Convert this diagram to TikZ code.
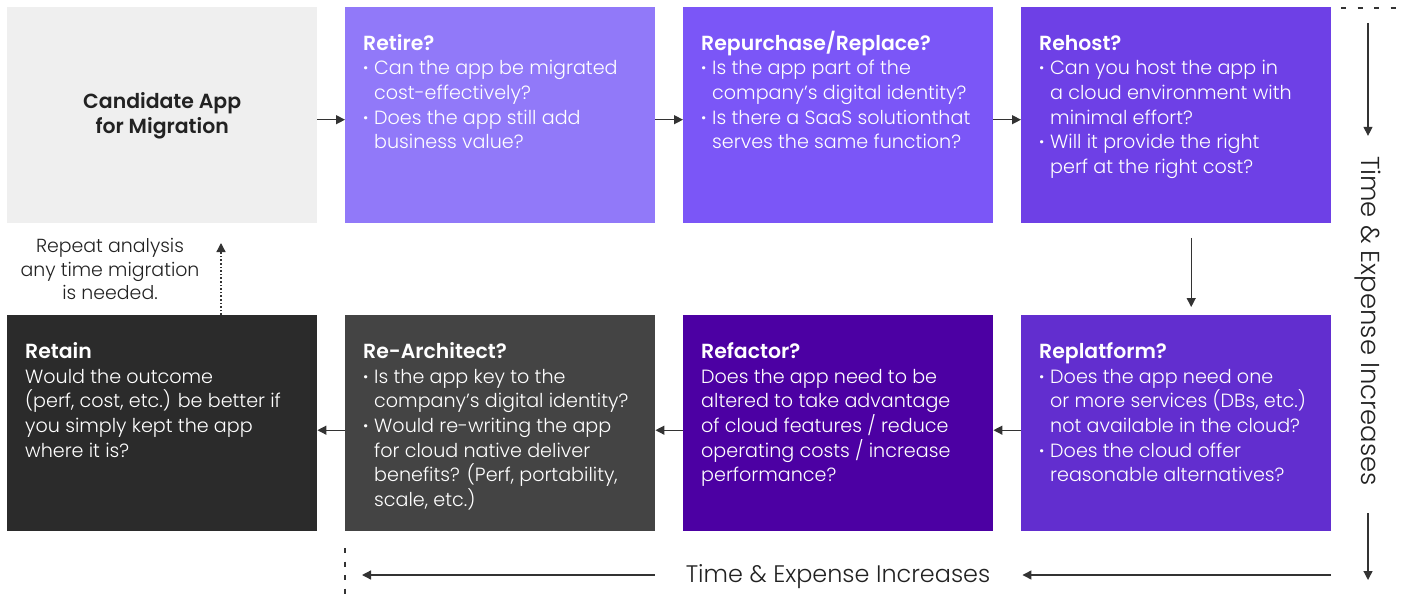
\documentclass[tikz,border=0pt]{standalone}
\usepackage{fontspec}
\setmainfont{Poppins}[UprightFont=* Light, BoldFont=* SemiBold]
\usetikzlibrary{arrows.meta}

\definecolor{candfill}{HTML}{EFEFEF}
\definecolor{retirefill}{HTML}{9179F9}
\definecolor{repurchfill}{HTML}{7B56F7}
\definecolor{rehostfill}{HTML}{6E40E6}
\definecolor{replatfill}{HTML}{622ECF}
\definecolor{refactfill}{HTML}{4C00A3}
\definecolor{rearchfill}{HTML}{444444}
\definecolor{retainfill}{HTML}{2B2B2B}
\definecolor{inkdark}{HTML}{222222}
\definecolor{linegray}{HTML}{333333}

\newcommand{\bul}{\makebox[11bp][l]{\textbf{·}}}
\newcommand{\cont}{\hspace*{11bp}}
% title line: fixed-height rule keeps the first baseline in the same place
\newcommand{\ttl}[1]{\rule{0pt}{21bp}{\fontsize{20.5}{24.7}\selectfont\bfseries #1}}

\begin{document}
\begin{tikzpicture}[x=1bp, y=-1bp,
  stagebox/.style={draw=none, minimum width=310bp, minimum height=216bp,
    inner sep=0, anchor=north west},
  bodytext/.style={anchor=north west, inner sep=0, align=left, text=white,
    font=\fontsize{19.2}{24.7}\selectfont},
  timetext/.style={inner sep=0, text=inkdark},
  arr/.style={draw=linegray, line width=1.3bp, -{Triangle[length=9bp,width=9bp]}},
  guide/.style={draw=linegray, line width=1.2bp}]

\useasboundingbox (0,0) rectangle (1403,600);

% ---- stage boxes, top row ----
\node[stagebox, fill=candfill]    (cand)    at (7,6.5)    {};
\node[stagebox, fill=retirefill]  (retire)  at (345,6.5)  {};
\node[stagebox, fill=repurchfill] (repurch) at (683,6.5)  {};
\node[stagebox, fill=rehostfill]  (rehost)  at (1021,6.5) {};
% ---- stage boxes, bottom row ----
\node[stagebox, fill=retainfill]  (retain)  at (7,315)    {};
\node[stagebox, fill=rearchfill]  (rearch)  at (345,315)  {};
\node[stagebox, fill=refactfill]  (refact)  at (683,315)  {};
\node[stagebox, fill=replatfill]  (replat)  at (1021,315) {};

% ---- box texts ----
\node[align=center, inner sep=0, text=inkdark,
  font=\fontsize{20.5}{24.7}\selectfont\bfseries] (candtxt) at ([yshift=-1bp]cand.center)
  {Candidate App\\for Migration};

\node[bodytext] (retiretxt) at ([shift={(18,22.5)}]retire.north west)
  {\ttl{Retire?}\\
   \bul Can the app be migrated\\
   \cont cost-effectively?\\
   \bul Does the app still add\\
   \cont business value?};

\node[bodytext] (repurchtxt) at ([shift={(18,22.5)}]repurch.north west)
  {\ttl{Repurchase/Replace?}\\
   \bul Is the app part of the\\
   \cont company’s digital identity?\\
   \bul Is there a SaaS solutionthat\\
   \cont serves the same function?};

\node[bodytext] (rehosttxt) at ([shift={(18,22.5)}]rehost.north west)
  {\ttl{Rehost?}\\
   \bul Can you host the app in\\
   \cont a cloud environment with\\
   \cont minimal effort?\\
   \bul Will it provide the right\\
   \cont perf at the right cost?};

\node[bodytext] (replattxt) at ([shift={(18,22.5)}]replat.north west)
  {\ttl{Replatform?}\\
   \bul Does the app need one\\
   \cont or more services (DBs, etc.)\\
   \cont not available in the cloud?\\
   \bul Does the cloud offer\\
   \cont reasonable alternatives?};

\node[bodytext] (refacttxt) at ([shift={(18,22.5)}]refact.north west)
  {\ttl{Refactor?}\\
   Does the app need to be\\
   altered to take advantage\\
   of cloud features / reduce\\
   operating costs / increase\\
   performance?};

\node[bodytext] (rearchtxt) at ([shift={(18,22.5)}]rearch.north west)
  {\ttl{Re-Architect?}\\
   \bul Is the app key to the\\
   \cont company’s digital identity?\\
   \bul Would re-writing the app\\
   \cont for cloud native deliver\\
   \cont benefits? (Perf, portability,\\
   \cont scale, etc.)};

\node[bodytext] (retaintxt) at ([shift={(18,22.5)}]retain.north west)
  {\ttl{Retain}\\
   Would the outcome\\
   (perf, cost, etc.) be better if\\
   you simply kept the app\\
   where it is?};

% ---- flow connectors ----
\draw[arr] ([yshift=-5bp]cand.east) -- ([yshift=-5bp]retire.west);
\draw[arr] ([yshift=-5bp]retire.east) -- ([yshift=-5bp]repurch.west);
\draw[arr] ([yshift=-5bp]repurch.east) -- ([yshift=-5bp]rehost.west);
\draw[arr, shorten <=15bp, shorten >=8bp]
  ([xshift=15bp]rehost.south) -- ([xshift=15bp]replat.north);
\draw[arr] ([yshift=-7bp]replat.west) -- ([yshift=-7bp]refact.east);
\draw[arr] ([yshift=-7bp]refact.west) -- ([yshift=-7bp]rearch.east);
\draw[arr] ([yshift=-7bp]rearch.west) -- ([yshift=-7bp]retain.east);

% ---- repeat loop ----
\node[align=center, inner sep=0, text=inkdark,
  font=\fontsize{19}{24}\selectfont] (repeat) at (110,269)
  {Repeat analysis\\any time migration\\is needed.};
\coordinate (looptop) at (221,243);
\draw[arr, dash pattern=on 1.6bp off 2bp] (retain.north -| looptop) -- (looptop);

% ---- time & expense axis, right side ----
\coordinate (dashL) at (1341,8);
\coordinate (dashR) at (1396,8);
\draw[guide, dash pattern=on 5bp off 11.5bp] (dashL) -- (dashR);
\node[timetext, rotate=-90, font=\fontsize{26}{30}\selectfont] (timev) at (1368,321)
  {Time \& Expense Increases};
\coordinate (vtop) at (1368,23);
\coordinate (vbot) at (1368,580);
\draw[arr, shorten >=20bp] (vtop) -- (timev.west);
\draw[arr, shorten <=27bp] (timev.east) -- (vbot);

% ---- time & expense axis, bottom ----
\coordinate (dashT) at (345,548);
\coordinate (dashB) at (345,601);
\draw[guide, dash pattern=on 5bp off 8.5bp] (dashT) -- (dashB);
\node[timetext, font=\fontsize{24}{28}\selectfont] (timeh) at (838,576.5) {Time \& Expense Increases};
\coordinate (hleft) at (362,575);
\coordinate (hright) at (1331,575);
\draw[arr, shorten <=31bp] (timeh.west |- hleft) -- (hleft);
\draw[arr, shorten >=32bp] (hright) -- (timeh.east |- hright);

\end{tikzpicture}
\end{document}
